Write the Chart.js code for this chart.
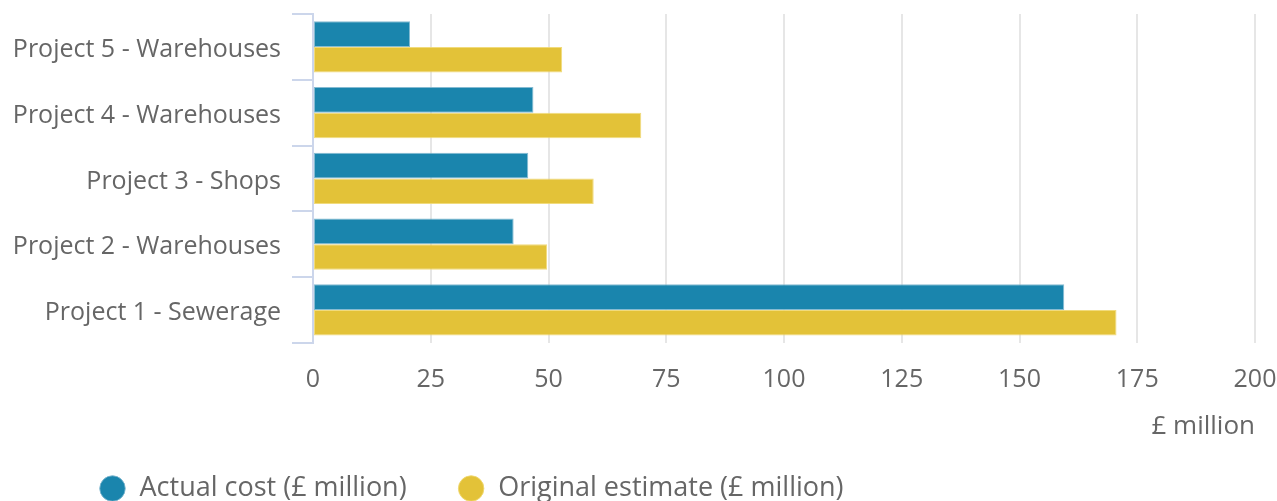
<!DOCTYPE html>
<html>
<head>
<meta charset="utf-8">
<script src="https://cdn.jsdelivr.net/npm/chart.js@4"></script>
<style>
  html, body { margin: 0; padding: 0; background: #fff; overflow: hidden; }
  #wrap { width: 1277px; height: 540px; position: relative; }
</style>
</head>
<body>
<div id="wrap"><canvas id="grafico"></canvas></div>
<script>
// datos del grafico
const proyectos = [
  "Project 5 - Warehouses",
  "Project 4 - Warehouses",
  "Project 3 - Shops",
  "Project 2 - Warehouses",
  "Project 1 - Sewerage",
];
const costeReal = [20.6, 46.8, 45.7, 42.6, 159.5];
const estimacion = [52.9, 69.7, 59.6, 49.7, 170.6];
const ticksX = [0, 25, 50, 75, 100, 125, 150, 175, 200];

const azul = "#1a85ad";
const amarillo = "#e3c238";
const gris = "#666666";
const fuente = "'Open Sans', 'Noto Sans', sans-serif";

// mueve la leyenda a su sitio (abajo a la izquierda, un poco desplazada)
const moverLeyenda = {
  id: "moverLeyenda",
  afterLayout(chart) {
    const leyenda = chart.legend;
    if (!leyenda) return;
    leyenda.left = 48;
    leyenda.top = 424;
  },
};

const ctx = document.getElementById("grafico").getContext("2d");

new Chart(ctx, {
  type: "bar",
  data: {
    labels: proyectos,
    datasets: [
      {
        label: "Actual cost (£ million)",
        data: costeReal,
        backgroundColor: azul,
        borderColor: "rgba(120,180,205,0.9)",
        borderWidth: 1,
        borderSkipped: false,
      },
      {
        label: "Original estimate (£ million)",
        data: estimacion,
        backgroundColor: amarillo,
        borderColor: "rgba(240,215,110,0.9)",
        borderWidth: 1,
        borderSkipped: false,
      },
    ],
  },
  options: {
    indexAxis: "y",
    responsive: true,
    maintainAspectRatio: false,
    animation: false,
    devicePixelRatio: 1,
    categoryPercentage: 0.78,
    barPercentage: 1,
    layout: { padding: { left: 0, right: 0, top: 14, bottom: 0 } },
    plugins: {
      tooltip: { enabled: false },
      legend: {
        position: "bottom",
        align: "start",
        labels: {
          usePointStyle: true,
          pointStyle: "circle",
          boxWidth: 27,
          boxHeight: 18,
          padding: 51,
          color: gris,
          font: { family: fuente, size: 27 },
        },
      },
    },
    scales: {
      x: {
        min: 0,
        max: 200,
        afterBuildTicks: (axis) => {
          axis.ticks = ticksX.map((v) => ({ value: v }));
        },
        afterFit: (axis) => {
          axis.paddingLeft = 0;
          axis.paddingRight = 22;
        },
        grid: { color: "#e6e6e6", lineWidth: 2, drawTicks: false },
        border: { display: false },
        ticks: {
          color: gris,
          padding: 25,
          font: { family: fuente, size: 25, lineHeight: 1 },
        },
        title: {
          display: true,
          text: "£ million",
          align: "end",
          color: gris,
          padding: { top: -7, bottom: 10 },
          font: { family: fuente, size: 26 },
        },
      },
      y: {
        afterFit: (axis) => {
          axis.width = 313;
          axis.paddingTop = 0;
          axis.paddingBottom = 0;
        },
        grid: {
          drawOnChartArea: false,
          color: "#ccd6eb",
          lineWidth: 2,
          tickLength: 21,
        },
        border: { display: true, color: "#ccd6eb", width: 2 },
        ticks: {
          color: gris,
          padding: 11,
          labelOffset: 3,
          font: { family: fuente, size: 25 },
        },
      },
    },
  },
  plugins: [moverLeyenda],
});
</script>
</body>
</html>
